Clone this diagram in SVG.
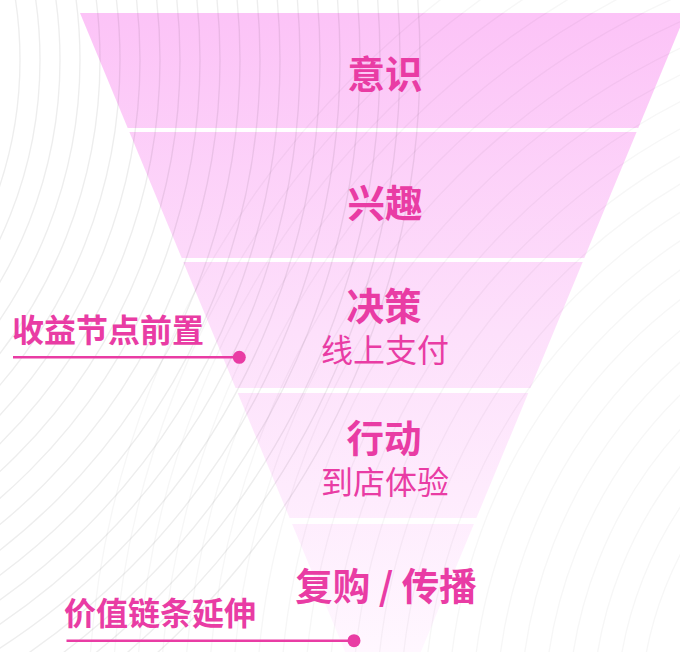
<svg xmlns="http://www.w3.org/2000/svg" width="680" height="652" viewBox="0 0 680 652">
<defs>
<linearGradient id="fg" gradientUnits="userSpaceOnUse" x1="0" y1="13" x2="0" y2="652">
<stop offset="0" stop-color="#FCC3F7"/>
<stop offset="0.5" stop-color="#FDE0FB"/>
<stop offset="1" stop-color="#FFF7FF"/>
</linearGradient>
<style>
.band{fill:url(#fg)}
.arcA{fill:none;stroke:#000;stroke-opacity:0.07;stroke-width:1.4}
.arcB{fill:none;stroke:#000;stroke-opacity:0.035;stroke-width:1.4}
.t{font-family:"Noto Sans CJK SC","Noto Sans",sans-serif;fill:#E93CA4;text-anchor:middle}
.h{font-size:37.5px;font-weight:700}
.s{font-size:32px;font-weight:400}
.lab{font-family:"Noto Sans CJK SC","Noto Sans",sans-serif;fill:#E93CA4;font-size:32px;font-weight:700}
.ln{stroke:#E93CA4;stroke-width:2.6}
.dot{fill:#E93CA4}
</style>
</defs>
<rect width="680" height="652" fill="#ffffff"/>
<g id="funnel-bands">
<polygon class="band" points="80,13 686,13 638.3,128 127.7,128"/>
<polygon class="band" points="129.4,132 636.6,132 584.3,258 181.7,258"/>
<polygon class="band" points="183.3,262 582.7,262 530.4,388 235.6,388"/>
<polygon class="band" points="237.7,393 528.3,393 476.4,518 289.6,518"/>
<polygon class="band" points="292.1,524 473.9,524 420.8,652 345.2,652"/>
</g>
<g id="background-arcs">
<circle class="arcA" cx="-380" cy="60" r="400"/>
<circle class="arcA" cx="-380" cy="60" r="420"/>
<circle class="arcA" cx="-380" cy="60" r="440"/>
<circle class="arcA" cx="-380" cy="60" r="460"/>
<circle class="arcA" cx="-380" cy="60" r="480"/>
<circle class="arcA" cx="-380" cy="60" r="500"/>
<circle class="arcA" cx="-380" cy="60" r="520"/>
<circle class="arcA" cx="-380" cy="60" r="540"/>
<circle class="arcA" cx="-380" cy="60" r="560"/>
<circle class="arcA" cx="-380" cy="60" r="580"/>
<circle class="arcA" cx="-380" cy="60" r="600"/>
<circle class="arcA" cx="-380" cy="60" r="620"/>
<circle class="arcA" cx="-380" cy="60" r="640"/>
<circle class="arcA" cx="-380" cy="60" r="660"/>
<circle class="arcA" cx="-380" cy="60" r="680"/>
<circle class="arcA" cx="-380" cy="60" r="700"/>
<circle class="arcA" cx="-380" cy="60" r="720"/>
<circle class="arcA" cx="-380" cy="60" r="740"/>
<circle class="arcA" cx="-380" cy="60" r="760"/>
<circle class="arcA" cx="-380" cy="60" r="780"/>
<circle class="arcA" cx="-380" cy="60" r="800"/>
<circle class="arcB" cx="1000" cy="720" r="360"/>
<circle class="arcB" cx="1000" cy="720" r="384"/>
<circle class="arcB" cx="1000" cy="720" r="408"/>
<circle class="arcB" cx="1000" cy="720" r="432"/>
<circle class="arcB" cx="1000" cy="720" r="456"/>
<circle class="arcB" cx="1000" cy="720" r="480"/>
<circle class="arcB" cx="1000" cy="720" r="504"/>
<circle class="arcB" cx="1000" cy="720" r="528"/>
<circle class="arcB" cx="1000" cy="720" r="552"/>
<circle class="arcB" cx="1000" cy="720" r="576"/>
<circle class="arcB" cx="1000" cy="720" r="600"/>
<circle class="arcB" cx="1000" cy="720" r="624"/>
<circle class="arcB" cx="1000" cy="720" r="648"/>
<circle class="arcB" cx="1000" cy="720" r="672"/>
<circle class="arcB" cx="1000" cy="720" r="696"/>
<circle class="arcB" cx="1000" cy="720" r="720"/>
<circle class="arcB" cx="1000" cy="720" r="744"/>
<circle class="arcB" cx="1000" cy="720" r="768"/>
<circle class="arcB" cx="1000" cy="720" r="792"/>
<circle class="arcB" cx="1000" cy="720" r="816"/>
<circle class="arcB" cx="1000" cy="720" r="840"/>
<circle class="arcB" cx="1000" cy="720" r="864"/>
<circle class="arcB" cx="1000" cy="720" r="888"/>
<circle class="arcB" cx="1000" cy="720" r="912"/>
</g>
<g id="stage-awareness"><text class="t h" x="385" y="88">意识</text></g>
<g id="stage-interest"><text class="t h" x="385" y="217">兴趣</text></g>
<g id="stage-decision"><text class="t h" x="384" y="320">决策</text><text class="t s" x="385" y="362">线上支付</text></g>
<g id="stage-action"><text class="t h" x="384" y="452">行动</text><text class="t s" x="385" y="494">到店体验</text></g>
<g id="stage-repurchase"><text class="t h" x="386" y="600">复购 / 传播</text></g>
<g id="label-revenue"><text class="lab" x="12" y="342">收益节点前置</text></g>
<g id="label-value"><text class="lab" x="64" y="625">价值链条延伸</text></g>
<g id="connectors">
<line class="ln" x1="13" y1="357.3" x2="239" y2="357.3"/>
<circle class="dot" cx="239.3" cy="357.3" r="6.5"/>
<line class="ln" x1="66.5" y1="640.7" x2="354" y2="640.7"/>
<circle class="dot" cx="354" cy="640.7" r="6.5"/>
</g>
</svg>
